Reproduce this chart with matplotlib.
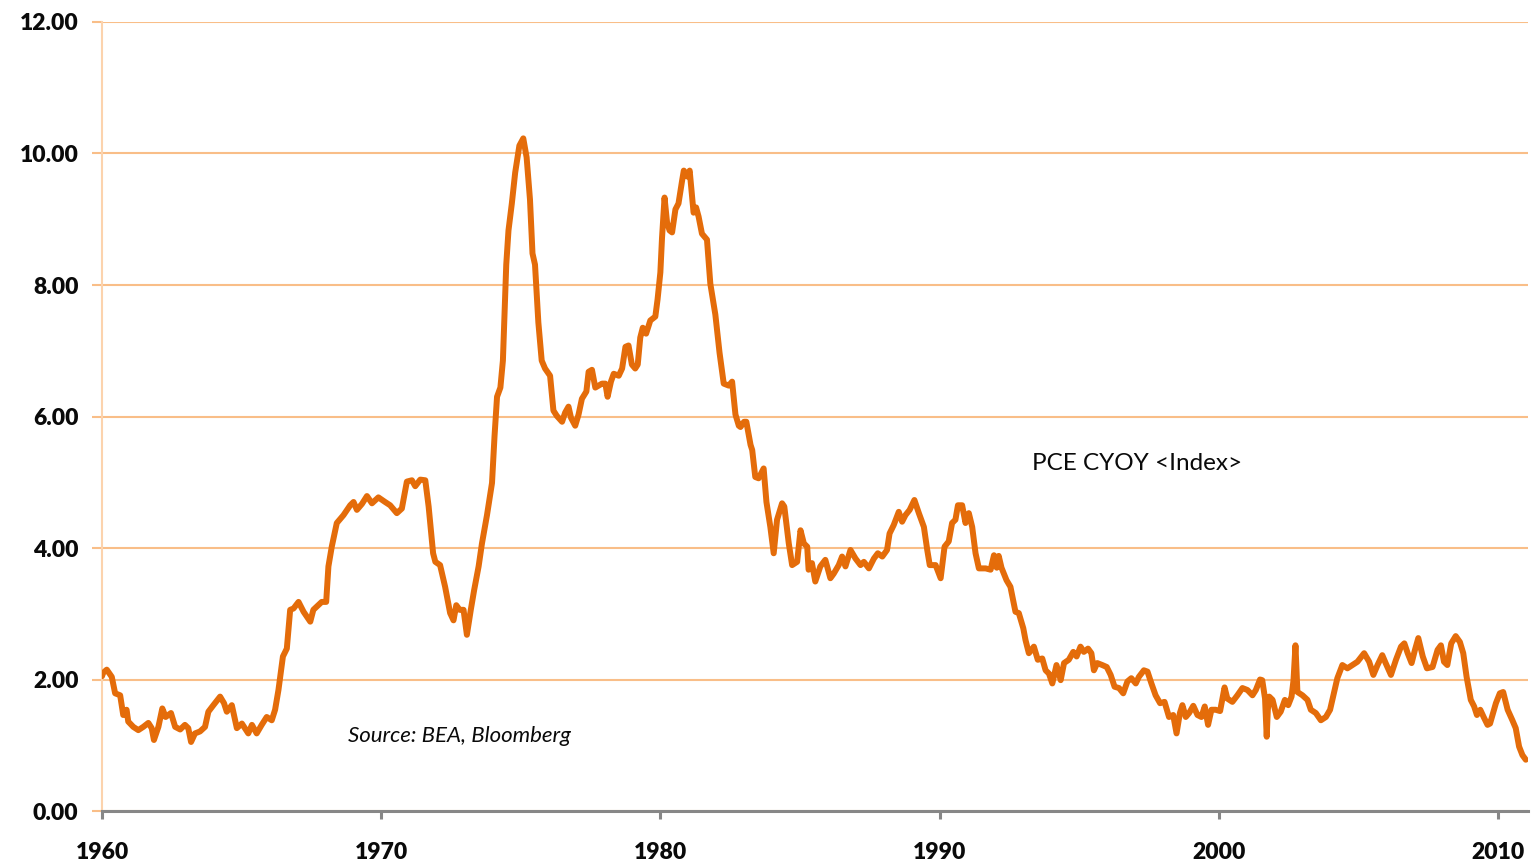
import matplotlib
matplotlib.use("Agg")
import matplotlib.pyplot as plt

# PCE year-over-year change (%), sampled along the series
years = [
    1960.00, 1960.04, 1960.17, 1960.35, 1960.47, 1960.65, 1960.76, 1960.88, 1960.94, 1961.12,
    1961.30, 1961.48, 1961.66, 1961.78, 1961.86, 1962.02, 1962.16, 1962.28, 1962.47, 1962.62,
    1962.80, 1962.97, 1963.09, 1963.19, 1963.33, 1963.51, 1963.69, 1963.81, 1963.99, 1964.23,
    1964.37, 1964.47, 1964.65, 1964.83, 1965.01, 1965.24, 1965.37, 1965.54, 1965.72, 1965.90,
    1966.08, 1966.20, 1966.32, 1966.48, 1966.62, 1966.74, 1966.86, 1967.04, 1967.22, 1967.46,
    1967.57, 1967.87, 1968.03, 1968.11, 1968.23, 1968.41, 1968.65, 1968.89, 1969.01, 1969.13,
    1969.31, 1969.49, 1969.67, 1969.90, 1970.14, 1970.32, 1970.56, 1970.74, 1970.92, 1971.10,
    1971.22, 1971.40, 1971.58, 1971.70, 1971.86, 1971.94, 1972.11, 1972.29, 1972.47, 1972.59,
    1972.69, 1972.81, 1972.95, 1973.07, 1973.21, 1973.33, 1973.49, 1973.61, 1973.79, 1973.97,
    1974.06, 1974.15, 1974.27, 1974.36, 1974.48, 1974.56, 1974.68, 1974.80, 1974.95, 1975.09,
    1975.21, 1975.33, 1975.42, 1975.51, 1975.63, 1975.75, 1975.87, 1976.05, 1976.17, 1976.29,
    1976.48, 1976.59, 1976.71, 1976.80, 1976.95, 1977.07, 1977.19, 1977.35, 1977.43, 1977.55,
    1977.67, 1977.91, 1978.03, 1978.11, 1978.23, 1978.33, 1978.51, 1978.63, 1978.75, 1978.86,
    1978.98, 1979.10, 1979.19, 1979.28, 1979.37, 1979.49, 1979.64, 1979.82, 1979.90, 1980.00,
    1980.06, 1980.15, 1980.24, 1980.33, 1980.42, 1980.54, 1980.65, 1980.78, 1980.84, 1980.96,
    1981.05, 1981.19, 1981.28, 1981.37, 1981.49, 1981.67, 1981.79, 1981.97, 1982.12, 1982.27,
    1982.45, 1982.57, 1982.69, 1982.81, 1982.87, 1983.00, 1983.08, 1983.23, 1983.29, 1983.40,
    1983.52, 1983.70, 1983.80, 1983.94, 1984.06, 1984.18, 1984.36, 1984.44, 1984.60, 1984.72,
    1984.90, 1985.02, 1985.14, 1985.26, 1985.31, 1985.43, 1985.55, 1985.73, 1985.91, 1986.09,
    1986.21, 1986.39, 1986.51, 1986.63, 1986.81, 1986.99, 1987.17, 1987.29, 1987.47, 1987.65,
    1987.79, 1987.95, 1988.12, 1988.21, 1988.36, 1988.54, 1988.66, 1988.78, 1988.93, 1989.10,
    1989.26, 1989.44, 1989.56, 1989.65, 1989.86, 1990.04, 1990.18, 1990.33, 1990.45, 1990.57,
    1990.66, 1990.81, 1990.93, 1991.05, 1991.17, 1991.29, 1991.41, 1991.65, 1991.83, 1991.95,
    1992.05, 1992.12, 1992.22, 1992.40, 1992.54, 1992.66, 1992.72, 1992.84, 1993.00, 1993.08,
    1993.20, 1993.38, 1993.52, 1993.68, 1993.80, 1993.92, 1994.04, 1994.19, 1994.34, 1994.46,
    1994.63, 1994.79, 1994.91, 1995.05, 1995.17, 1995.32, 1995.44, 1995.53, 1995.65, 1995.83,
    1995.99, 1996.13, 1996.27, 1996.43, 1996.58, 1996.73, 1996.87, 1997.03, 1997.14, 1997.32,
    1997.45, 1997.59, 1997.74, 1997.90, 1998.06, 1998.22, 1998.37, 1998.49, 1998.61, 1998.70,
    1998.82, 1998.94, 1999.09, 1999.24, 1999.38, 1999.50, 1999.62, 1999.74, 1999.89, 2000.05,
    2000.21, 2000.31, 2000.49, 2000.67, 2000.85, 2001.03, 2001.21, 2001.33, 2001.48, 2001.56,
    2001.66, 2001.72, 2001.76, 2001.81, 2001.93, 2002.08, 2002.22, 2002.37, 2002.49, 2002.61,
    2002.68, 2002.75, 2002.82, 2003.00, 2003.18, 2003.30, 2003.48, 2003.66, 2003.84, 2003.99,
    2004.11, 2004.25, 2004.43, 2004.61, 2004.79, 2004.97, 2005.21, 2005.39, 2005.54, 2005.69,
    2005.86, 2005.98, 2006.17, 2006.35, 2006.53, 2006.65, 2006.77, 2006.91, 2007.03, 2007.15,
    2007.31, 2007.46, 2007.66, 2007.84, 2007.96, 2008.07, 2008.19, 2008.33, 2008.49, 2008.64,
    2008.76, 2008.88, 2009.03, 2009.15, 2009.25, 2009.37, 2009.49, 2009.63, 2009.72, 2009.93,
    2010.07, 2010.19, 2010.26, 2010.35, 2010.52, 2010.64, 2010.76, 2010.88, 2011.00,
]
pce_yoy = [
    2.05, 2.10, 2.15, 2.04, 1.79, 1.76, 1.46, 1.54, 1.36, 1.28,
    1.23, 1.28, 1.34, 1.26, 1.08, 1.28, 1.56, 1.43, 1.49, 1.28,
    1.24, 1.31, 1.26, 1.05, 1.18, 1.21, 1.28, 1.51, 1.61, 1.74,
    1.64, 1.51, 1.61, 1.26, 1.33, 1.18, 1.31, 1.18, 1.31, 1.43,
    1.38, 1.54, 1.84, 2.35, 2.47, 3.06, 3.08, 3.18, 3.03, 2.88,
    3.06, 3.18, 3.18, 3.72, 4.02, 4.38, 4.50, 4.65, 4.70, 4.58,
    4.67, 4.79, 4.68, 4.77, 4.70, 4.65, 4.53, 4.60, 5.01, 5.03,
    4.94, 5.04, 5.03, 4.63, 3.92, 3.79, 3.74, 3.41, 3.01, 2.90,
    3.13, 3.06, 3.06, 2.68, 3.06, 3.36, 3.72, 4.07, 4.50, 4.99,
    5.70, 6.30, 6.44, 6.85, 8.31, 8.83, 9.24, 9.71, 10.12, 10.23,
    9.94, 9.30, 8.48, 8.31, 7.43, 6.85, 6.73, 6.62, 6.09, 6.01,
    5.92, 6.06, 6.15, 5.98, 5.86, 6.03, 6.27, 6.38, 6.68, 6.71,
    6.44, 6.50, 6.50, 6.30, 6.53, 6.65, 6.62, 6.73, 7.06, 7.08,
    6.79, 6.73, 6.79, 7.20, 7.35, 7.26, 7.46, 7.52, 7.78, 8.19,
    8.72, 9.33, 8.95, 8.83, 8.80, 9.15, 9.24, 9.59, 9.74, 9.65,
    9.74, 9.10, 9.18, 9.04, 8.78, 8.69, 8.02, 7.55, 6.97, 6.50,
    6.47, 6.53, 6.03, 5.86, 5.84, 5.92, 5.92, 5.57, 5.49, 5.08,
    5.06, 5.21, 4.70, 4.32, 3.92, 4.43, 4.68, 4.63, 4.07, 3.74,
    3.79, 4.27, 4.07, 4.02, 3.67, 3.77, 3.49, 3.72, 3.82, 3.54,
    3.61, 3.74, 3.87, 3.72, 3.97, 3.84, 3.74, 3.79, 3.69, 3.84,
    3.92, 3.87, 3.97, 4.22, 4.35, 4.55, 4.40, 4.50, 4.58, 4.73,
    4.53, 4.32, 3.97, 3.74, 3.74, 3.54, 4.02, 4.10, 4.38, 4.43,
    4.65, 4.65, 4.38, 4.53, 4.32, 3.92, 3.69, 3.69, 3.67, 3.89,
    3.70, 3.88, 3.70, 3.51, 3.41, 3.16, 3.03, 3.01, 2.78, 2.60,
    2.40, 2.50, 2.30, 2.32, 2.14, 2.09, 1.94, 2.22, 1.99, 2.25,
    2.30, 2.42, 2.35, 2.50, 2.42, 2.47, 2.40, 2.14, 2.25, 2.22,
    2.19, 2.07, 1.89, 1.87, 1.79, 1.97, 2.02, 1.94, 2.04, 2.14,
    2.12, 1.94, 1.76, 1.64, 1.66, 1.43, 1.46, 1.18, 1.49, 1.61,
    1.43, 1.49, 1.60, 1.46, 1.43, 1.59, 1.31, 1.54, 1.54, 1.52,
    1.88, 1.71, 1.66, 1.76, 1.87, 1.84, 1.76, 1.84, 2.00, 1.99,
    1.71, 1.13, 1.54, 1.74, 1.69, 1.43, 1.51, 1.69, 1.61, 1.74,
    1.99, 2.52, 1.81, 1.76, 1.69, 1.54, 1.49, 1.38, 1.43, 1.54,
    1.76, 2.02, 2.22, 2.17, 2.22, 2.27, 2.40, 2.27, 2.07, 2.22,
    2.37, 2.25, 2.07, 2.30, 2.50, 2.55, 2.40, 2.25, 2.45, 2.63,
    2.35, 2.17, 2.19, 2.45, 2.52, 2.27, 2.22, 2.55, 2.66, 2.57,
    2.40, 2.04, 1.69, 1.59, 1.46, 1.54, 1.43, 1.31, 1.33, 1.64,
    1.79, 1.81, 1.69, 1.54, 1.38, 1.26, 0.98, 0.85, 0.78,
]

x_ticks = [1960, 1970, 1980, 1990, 2000, 2010]
y_ticks = [0, 2, 4, 6, 8, 10, 12]
series_label = "PCE CYOY <Index>"
source_note = "Source: BEA, Bloomberg"

LINE = "#E46C0A"
GRID = "#F9BE88"
VSPINE = "#FCD3AD"
AXIS = "#878787"

fig = plt.figure(figsize=(15.34, 8.66), dpi=100)
ax = fig.add_axes([0.0665, 0.0635, 0.9296, 0.9111])

ax.plot(years, pce_yoy, color=LINE, lw=4.3, solid_joinstyle="round",
        solid_capstyle="round", zorder=3)

ax.set_xlim(1960, 2011.08)
ax.set_ylim(0, 12)
ax.set_xticks(x_ticks)
ax.set_yticks(y_ticks)
ax.set_xticklabels([str(t) for t in x_ticks])
ax.set_yticklabels([f"{t:.2f}" for t in y_ticks])

ax.yaxis.grid(True, color=GRID, lw=1.5, zorder=1)
ax.xaxis.grid(False)

for side in ("top", "right"):
    ax.spines[side].set_visible(False)
ax.spines["left"].set_color(VSPINE)
ax.spines["left"].set_linewidth(1.5)
ax.spines["bottom"].set_color(AXIS)
ax.spines["bottom"].set_linewidth(2.2)
ax.spines["bottom"].set_zorder(4)

ax.tick_params(axis="y", direction="out", length=7, width=1.5, color=GRID, pad=10,
               labelsize=16.5)
ax.tick_params(axis="x", direction="out", length=6, width=2.2, color=AXIS, pad=16,
               labelsize=16.5)
for lab in ax.get_xticklabels() + ax.get_yticklabels():
    lab.set_fontfamily("Lato")
    lab.set_fontweight("heavy")
    lab.set_color("#0A0A0A")

ax.text(1993.31, 5.29, series_label, ha="left", va="center", fontsize=17.5,
        fontfamily="Lato", color="#0A0A0A")
ax.text(1968.80, 1.14, source_note, ha="left", va="center", fontsize=16,
        fontfamily="Lato", fontstyle="italic", color="#0A0A0A")

fig.savefig("out.png", dpi=100)
